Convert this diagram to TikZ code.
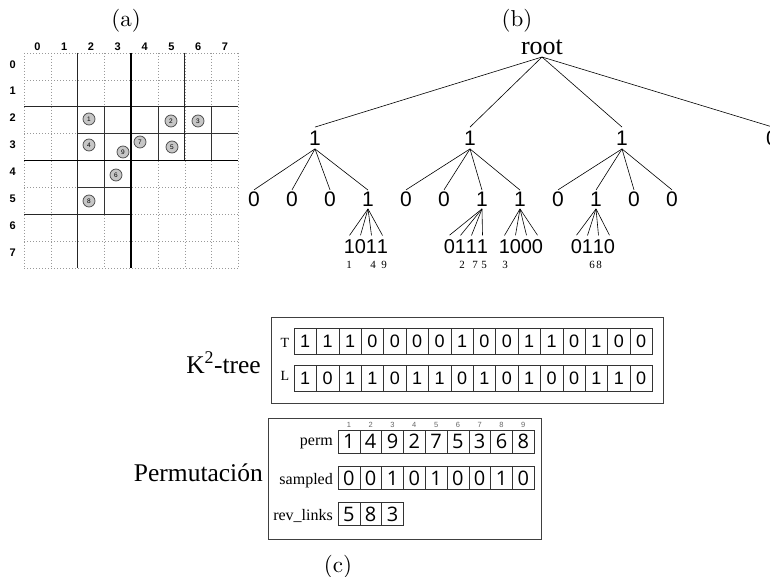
\documentclass[tikz,border=0pt]{standalone}
\usepackage{fontspec}
\newfontfamily\lsans{Liberation Sans}
\newfontfamily\lserif{Liberation Serif}
\newfontfamily\osans{Open Sans}
\newfontfamily\lmpanel{lmroman10-regular.otf}
\begin{document}
\begin{tikzpicture}[x=1pt,y=-1pt,
  dotline/.style={draw=gray!80, line width=0.6pt, dash pattern=on 0.9pt off 2.1pt},
  lone/.style={draw=black, line width=1.7pt},
  ltwo/.style={draw=black!85, line width=1.2pt},
  lthree/.style={draw=black!80, line width=0.8pt},
  gridlab/.style={font=\lsans\bfseries\fontsize{11}{11}\selectfont, inner sep=0pt},
  pt/.style={circle, fill=gray!45, draw=gray!55!black, line width=0.7pt, minimum size=12pt, inner sep=0pt, font=\lsans\fontsize{6.5}{6.5}\selectfont},
  panel/.style={font=\lmpanel\fontsize{23}{23}\selectfont, inner sep=0pt},
  rootn/.style={font=\lserif\fontsize{26}{26}\selectfont, inner sep=2pt},
  lvone/.style={font=\lsans\fontsize{21}{21}\selectfont, inner sep=3.5pt},
  lvtwo/.style={font=\lsans\fontsize{21}{21}\selectfont, inner sep=2pt},
  leaf/.style={font=\lsans\fontsize{20}{20}\selectfont, inner xsep=0pt, inner ysep=4.5pt},
  smallnum/.style={font=\lserif\fontsize{11}{11}\selectfont, inner sep=0pt},
  edge/.style={draw=black, line width=0.6pt},
  outerbox/.style={draw=black!75, line width=1pt, inner sep=0pt, outer sep=0pt},
  tcell/.style={draw=black!80, line width=0.6pt, minimum width=22.4pt, minimum height=26pt, inner sep=0pt, outer sep=0pt, font=\lsans\fontsize{18}{18}\selectfont},
  pcell/.style={draw=black!80, line width=0.6pt, minimum width=21.8pt, minimum height=23pt, inner sep=0pt, outer sep=0pt, font=\osans\fontsize{20}{20}\selectfont},
  rowlab/.style={font=\lserif\fontsize{16}{16}\selectfont, inner sep=0pt},
  idx/.style={font=\lsans\fontsize{7.5}{7.5}\selectfont, text=gray!80!black, inner sep=0pt},
  big/.style={font=\lserif\fontsize{25.5}{25.5}\selectfont, inner sep=0pt}
]
\useasboundingbox (0,0) rectangle (770,577);

% ---------------- (a) ----------------
\node[panel] (pa) at (126,21) {(a)};
\begin{scope}[shift={(24,53)}, x=26.8pt, y=-26.9pt]
  \foreach \i in {0,...,8} {
    \draw[dotline] (\i,0) -- (\i,8);
    \draw[dotline] (0,\i) -- (8,\i);
  }
  % level 3
  \draw[lthree] (3,2) -- (3,6);
  \draw[lthree] (5,2) -- (5,4);
  \draw[lthree] (7,2) -- (7,4);
  \draw[lthree] (2,3) -- (8,3);
  \draw[lthree] (2,5) -- (4,5);
  % level 2
  \draw[ltwo] (2,0) -- (2,8);
  \draw[ltwo] (6,0) -- (6,4);
  \draw[ltwo] (0,2) -- (8,2);
  \draw[ltwo] (0,6) -- (4,6);
  % level 1
  \draw[lone] (4,0) -- (4,8);
  \draw[lone] (0,4) -- (8,4);
  \foreach \i in {0,...,7} {
    \node[gridlab] (col\i) at (\i+0.5,-0.25) {\i};
    \node[gridlab] (row\i) at (-0.42,\i+0.42) {\i};
  }
\end{scope}
\node[pt] (p1) at (89,119) {1};
\node[pt] (p2) at (171,121) {2};
\node[pt] (p3) at (198,121) {3};
\node[pt] (p4) at (89,145) {4};
\node[pt] (p5) at (172,147) {5};
\node[pt] (p6) at (116,175) {6};
\node[pt] (p7) at (140,142) {7};
\node[pt] (p8) at (89,201) {8};
\node[pt] (p9) at (123,152) {9};

% ---------------- (b) ----------------
\node[panel] (pb) at (517,21) {(b)};
\node[rootn, anchor=south] (root) at (542,57) {root};
\node[lvone] (n1) at (315,138) {1};
\node[lvone] (n2) at (470,138) {1};
\node[lvone] (n3) at (622,138) {1};
\node[lvone] (n4) at (772,138) {0};
\foreach \n in {n1,n2,n3,n4} \draw[edge] (root.south) -- (\n.north);

\node[lvtwo] (a1) at (254,199.5) {0};
\node[lvtwo] (a2) at (292,199.5) {0};
\node[lvtwo] (a3) at (330,199.5) {0};
\node[lvtwo] (a4) at (368,199.5) {1};
\node[lvtwo] (b1) at (406,199.5) {0};
\node[lvtwo] (b2) at (444,199.5) {0};
\node[lvtwo] (b3) at (482,199.5) {1};
\node[lvtwo] (b4) at (520,199.5) {1};
\node[lvtwo] (c1) at (558,199.5) {0};
\node[lvtwo] (c2) at (596,199.5) {1};
\node[lvtwo] (c3) at (634,199.5) {0};
\node[lvtwo] (c4) at (672,199.5) {0};
\foreach \c in {a1,a2,a3,a4} \draw[edge] (n1.south) -- (\c.north);
\foreach \c in {b1,b2,b3,b4} \draw[edge] (n2.south) -- (\c.north);
\foreach \c in {c1,c2,c3,c4} \draw[edge] (n3.south) -- (\c.north);

% leaves
\foreach \d [count=\k] in {1,0,1,1} {
  \node[leaf] (la\k) at ({366+11*(\k-2.5)},247) {\d};
  \draw[edge] (a4.south) -- (la\k.north);
}
\foreach \d [count=\k] in {0,1,1,1} {
  \node[leaf] (lb\k) at ({466+11*(\k-2.5)},247) {\d};
  \draw[edge] (b3.south) -- (lb\k.north);
}
\foreach \d [count=\k] in {1,0,0,0} {
  \node[leaf] (lc\k) at ({521+11*(\k-2.5)},247) {\d};
  \draw[edge] (b4.south) -- (lc\k.north);
}
\foreach \d [count=\k] in {0,1,1,0} {
  \node[leaf] (ld\k) at ({593+11*(\k-2.5)},247) {\d};
  \draw[edge] (c2.south) -- (ld\k.north);
}
\node[smallnum] (s1) at (349,265) {1};
\node[smallnum] (s4) at (373,265) {4};
\node[smallnum] (s9) at (384,265) {9};
\node[smallnum] (s2) at (462,265) {2};
\node[smallnum] (s7) at (475,265) {7};
\node[smallnum] (s5) at (484,265) {5};
\node[smallnum] (s3) at (505,265) {3};
\node[smallnum] (s6) at (592,265) {6};
\node[smallnum] (s8) at (599,265) {8};

% ---------------- (c) ----------------
\node[outerbox, minimum width=392pt, minimum height=86pt] (kbox) at (467,360) {};
\node[big, anchor=base east] (ktree) at (261,373) {K\textsuperscript{2}-tree};
\node[font=\lserif\fontsize{14}{14}\selectfont, inner sep=0pt, anchor=base] (tlab) at (285,347) {T};
\node[font=\lserif\fontsize{14}{14}\selectfont, inner sep=0pt, anchor=base] (llab) at (285,380) {L};
\foreach \d [count=\k] in {1,1,1,0,0,0,0,1,0,0,1,1,0,1,0,0}
  \node[tcell] (t\k) at ({282.8+22.4*\k},341) {\d};
\foreach \d [count=\k] in {1,0,1,1,0,1,1,0,1,0,1,0,0,1,1,0}
  \node[tcell] (l\k) at ({282.8+22.4*\k},378) {\d};

\node[outerbox, minimum width=273pt, minimum height=121pt] (pbox) at (404.5,478.5) {};
\node[big, anchor=base east] (permt) at (263,481) {Permutación};
\node[rowlab, anchor=base east] (permlab) at (333,445) {perm};
\node[rowlab, anchor=base east] (samplab) at (333,484) {sampled};
\node[rowlab, anchor=base east] (revlab) at (333,520) {rev\_links};
\foreach \d [count=\k] in {1,4,9,2,7,5,3,6,8} {
  \node[pcell] (pm\k) at ({327.1+21.8*\k},441.5) {\d};
  \node[idx] (ix\k) at ({327.1+21.8*\k},424.5) {\k};
}
\foreach \d [count=\k] in {0,0,1,0,1,0,0,1,0}
  \node[pcell] (sm\k) at ({327.1+21.8*\k},478) {\d};
\foreach \d [count=\k] in {5,8,3}
  \node[pcell] (rv\k) at ({327.1+21.8*\k},514) {\d};

\node[panel, anchor=base] (pc) at (338,572) {(c)};
\end{tikzpicture}
\end{document}
